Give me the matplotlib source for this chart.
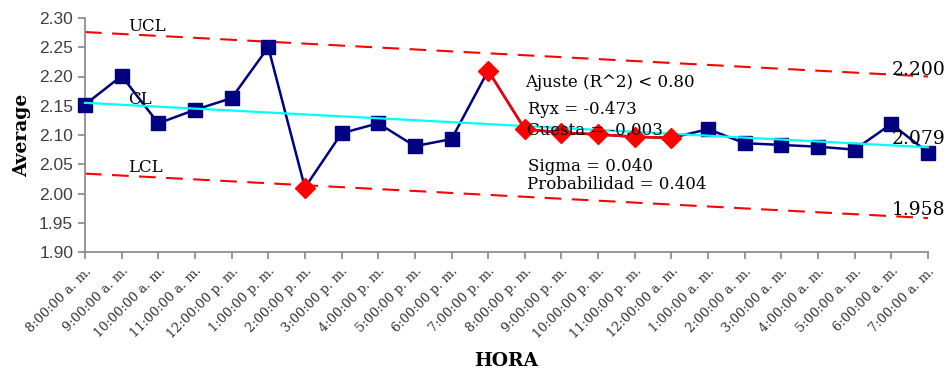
import matplotlib
matplotlib.use("Agg")
import matplotlib.pyplot as plt
import numpy as np

horas = ["8:00:00 a. m.", "9:00:00 a. m.", "10:00:00 a. m.", "11:00:00 a. m.",
         "12:00:00 p. m.", "1:00:00 p. m.", "2:00:00 p. m.", "3:00:00 p. m.",
         "4:00:00 p. m.", "5:00:00 p. m.", "6:00:00 p. m.", "7:00:00 p. m.",
         "8:00:00 p. m.", "9:00:00 p. m.", "10:00:00 p. m.", "11:00:00 p. m.",
         "12:00:00 a. m.", "1:00:00 a. m.", "2:00:00 a. m.", "3:00:00 a. m.",
         "4:00:00 a. m.", "5:00:00 a. m.", "6:00:00 a. m.", "7:00:00 a. m."]
average = [2.152, 2.201, 2.120, 2.143, 2.163, 2.250, 2.010, 2.103,
           2.120, 2.081, 2.093, 2.210, 2.110, 2.104, 2.101, 2.097,
           2.095, 2.110, 2.086, 2.083, 2.080, 2.075, 2.119, 2.070]
fuera_control = [6, 11, 12, 13, 14, 15, 16]  # flagged points (red diamonds)
cl_inicio, cl_fin = 2.155, 2.079
ucl_inicio, ucl_fin = 2.276, 2.200
lcl_inicio, lcl_fin = 2.034, 1.958
estadisticas = ["Ajuste (R^2) < 0.80", "Ryx = -0.473", "Cuesta = -0.003",
                "Sigma = 0.040", "Probabilidad = 0.404"]

SERIF = "DejaVu Serif"
SANS = "Liberation Sans"
NAVY = "#000080"
RED = "#FF0000"
GRAY = "#868686"

fig = plt.figure(figsize=(9.47, 3.72), dpi=100)
ax = fig.add_axes([85 / 947, 1 - 252 / 372, 843 / 947, 234 / 372])

n = len(average)
x = np.arange(n)
y = np.array(average)
flag = set(fuera_control)
normal = [i for i in range(n) if i not in flag]

# main series
ax.plot(x, y, color=NAVY, lw=1.8, zorder=3, clip_on=False)
ax.plot(x[normal], y[normal], ls="none", marker="s", ms=10.5, color=NAVY,
        zorder=4, clip_on=False)

# red segments between consecutive flagged points
for i in range(n - 1):
    if i in flag and i + 1 in flag:
        ax.plot(x[i:i + 2], y[i:i + 2], color=RED, lw=1.8, zorder=5)
ax.plot(x[fuera_control], y[fuera_control], ls="none", marker="D", ms=10,
        color=RED, zorder=6, clip_on=False)

# control lines
ends = [0, n - 1]
ax.plot(ends, [ucl_inicio, ucl_fin], color=RED, lw=1.5, ls=(0, (8, 5)), zorder=2, clip_on=False)
ax.plot(ends, [lcl_inicio, lcl_fin], color=RED, lw=1.5, ls=(0, (8, 5)), zorder=2, clip_on=False)
ax.plot(ends, [cl_inicio, cl_fin], color="#00FFFF", lw=1.6, zorder=5, clip_on=False)

ax.set_xlim(0, n - 1)
ax.set_ylim(1.90, 2.30)
yt = np.arange(1.90, 2.301, 0.05)
ax.set_yticks(yt)
ax.set_yticklabels([f"{v:.2f}" for v in yt], fontfamily=SANS, fontsize=12.5,
                   color="#404040")
ax.set_xticks(x)
ax.set_xticklabels(horas, rotation=45, ha="right", rotation_mode="anchor",
                   fontfamily=SERIF, fontsize=9.3, color="#303030")

for s in ["top", "right"]:
    ax.spines[s].set_visible(False)
for s in ["left", "bottom"]:
    ax.spines[s].set_color(GRAY)
    ax.spines[s].set_linewidth(1.2)
ax.tick_params(axis="both", color=GRAY, length=5, width=1.2, direction="out")
ax.tick_params(axis="x", pad=4)

ax.set_ylabel("Average", fontfamily=SERIF, fontsize=13.5, fontweight="bold", labelpad=6)
ax.set_xlabel("HORA", fontfamily=SERIF, fontsize=13.5, fontweight="bold", labelpad=8)

# line labels
tk = dict(fontfamily=SERIF, fontsize=12, color="black", zorder=7)
ax.text(1.17, 2.285, "UCL", ha="left", va="center", **tk)
ax.text(1.17, 2.160, "CL", ha="left", va="center", **tk)
ax.text(1.17, 2.044, "LCL", ha="left", va="center", **tk)
tr = dict(tk, fontsize=13.5)
ax.text(22.02, 2.2105, f"{ucl_fin:.3f}", ha="left", va="center", **tr)
ax.text(22.02, 2.093, f"{cl_fin:.3f}", ha="left", va="center", **tr)
ax.text(22.02, 1.971, f"{lcl_fin:.3f}", ha="left", va="center", **tr)

# statistics block
ys = [2.189, 2.144, 2.107, 2.047, 2.016]
xs = [12.0, 12.1, 12.05, 12.1, 12.05]
for t, xx, yy in zip(estadisticas, xs, ys):
    ax.text(xx, yy, t, ha="left", va="center", **tk)

fig.savefig("out.png", dpi=100)
